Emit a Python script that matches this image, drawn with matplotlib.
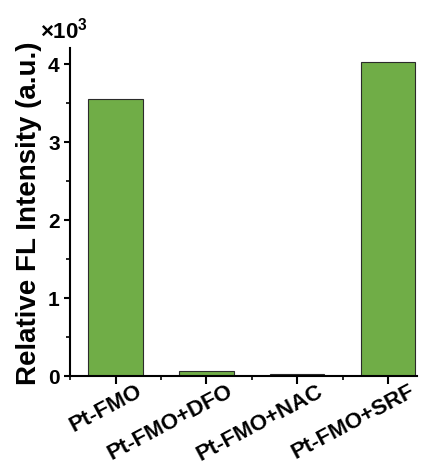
import matplotlib
matplotlib.use('Agg')
import matplotlib.pyplot as plt
import matplotlib.transforms as mtransforms
import numpy as np
from matplotlib.ticker import MultipleLocator

plt.rcParams['font.family'] = ['Liberation Sans', 'DejaVu Sans']
plt.rcParams['font.weight'] = 'bold'
plt.rcParams['mathtext.fontset'] = 'custom'
plt.rcParams['mathtext.rm'] = 'Liberation Sans:bold'
plt.rcParams['mathtext.default'] = 'rm'

categories = ['Pt-FMO', 'Pt-FMO+DFO', 'Pt-FMO+NAC', 'Pt-FMO+SRF']
values = [3550, 60, 30, 4020]

fig = plt.figure(figsize=(4.3, 4.64), dpi=100)
ax = fig.add_axes([0.163, 0.1875, 0.807, 0.7065])

x = np.arange(len(categories))
ax.bar(x, np.array(values) / 1000, width=0.6, color='#70AD47',
       edgecolor='#2b2b2b', linewidth=0.8)

ax.set_xlim(-0.5, 3.32)
ax.set_ylim(0, 4.2)
ax.set_xticks(x)
ax.set_xticklabels([])
# rotated category labels, shifted right of the tick like the original
shift = mtransforms.ScaledTranslation(0.2, -0.04, fig.dpi_scale_trans)
for i, name in zip(x, categories):
    ax.text(i, 0, name, transform=ax.get_xaxis_transform() + shift,
            rotation=28, ha='right', va='top', rotation_mode='anchor',
            fontsize=16, fontweight='bold')
ax.xaxis.set_minor_locator(MultipleLocator(0.5))
ax.set_yticks([0, 1, 2, 3, 4])
ax.yaxis.set_minor_locator(MultipleLocator(0.5))
ax.tick_params(axis='y', labelsize=15, width=1.5, length=4.5, pad=3)
ax.tick_params(axis='x', width=1.5, length=6)
ax.tick_params(which='minor', width=1.2, length=3)
ax.spines['top'].set_visible(False)
ax.spines['right'].set_visible(False)
ax.spines['left'].set_linewidth(1.5)
ax.spines['bottom'].set_linewidth(1.5)
ax.set_ylabel('Relative FL Intensity (a.u.)', fontsize=20, fontweight='bold',
              labelpad=4)

fig.text(0.093, 0.918, r'$\times10^{3}$', fontsize=16, fontweight='bold',
         va='baseline')

fig.savefig('out.png', dpi=100)
